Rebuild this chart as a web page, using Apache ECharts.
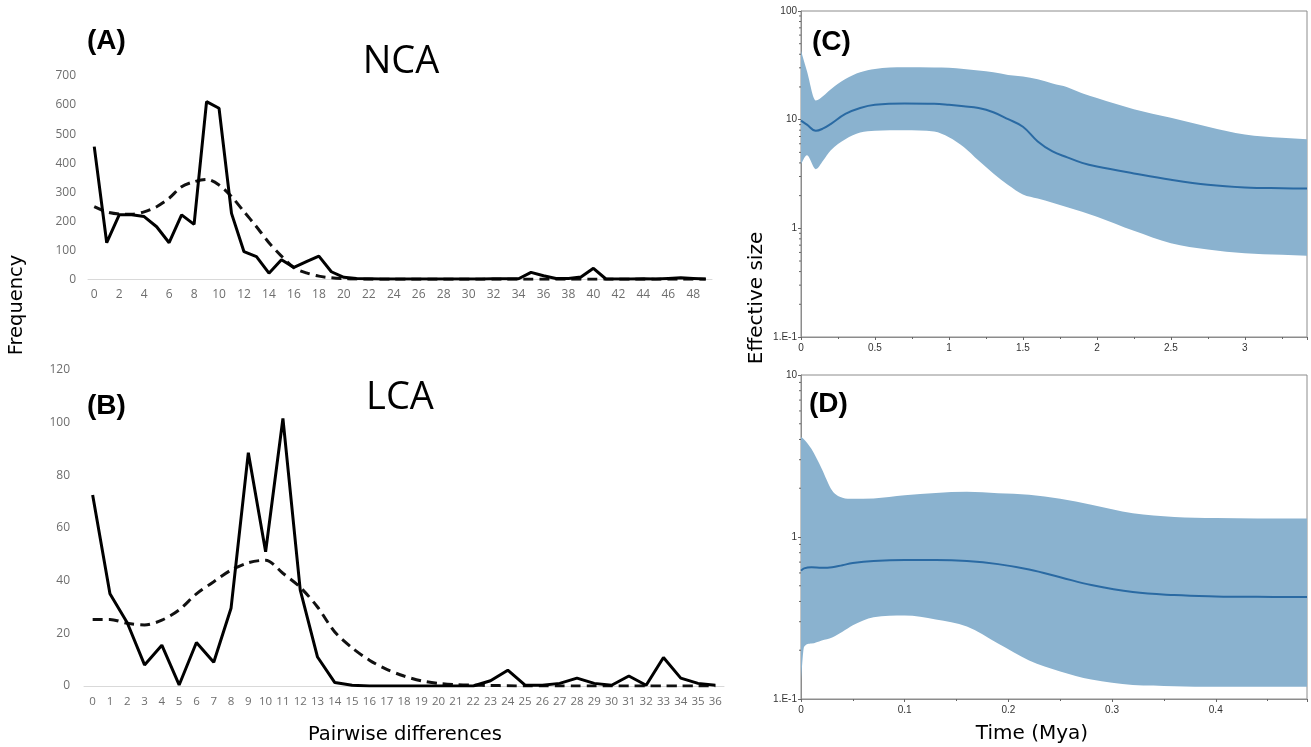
<!DOCTYPE html>
<html>
<head>
<meta charset="utf-8">
<script src="https://cdn.jsdelivr.net/npm/echarts@6/dist/echarts.min.js"></script>
<style>
html,body{margin:0;padding:0;background:#fff;}
#chart{width:1311px;height:747px;}
</style>
</head>
<body>
<div id="chart"></div>
<script>
// ---------- Panel A (NCA) ----------
const ncaCategories = ['0','1','2','3','4','5','6','7','8','9','10','11','12','13','14','15','16','17','18','19','20','21','22','23','24','25','26','27','28','29','30','31','32','33','34','35','36','37','38','39','40','41','42','43','44','45','46','47','48','49'];
const ncaObserved = [457,126,222,222,216,181,126,222,189,612,589,227,95,78,21,67,41,61,80,26,7,3,2,1,1,1,1,1,1,1,1,1,2,2,2,24,12,3,3,8,38,1,1,1,2,1,3,5,3,1];
const ncaExpected = [250,232,225,224,232,250,279,319,336,344,325,285,233,181,126,80,40,22,11,5,2,1,0,0,0,0,0,0,0,0,0,0,0,0,0,0,0,0,0,0,0,0,0,0,0,0,0,0,0,0];
const ncaYTicks = [0,100,200,300,400,500,600,700];

// ---------- Panel B (LCA) ----------
const lcaCategories = ['0','1','2','3','4','5','6','7','8','9','10','11','12','13','14','15','16','17','18','19','20','21','22','23','24','25','26','27','28','29','30','31','32','33','34','35','36'];
const lcaObserved = [72.5,35,24,8,15.5,0.4,16.5,9,29.5,88.6,51,101.6,36.5,11,1.3,0.3,0,0,0,0,0,0,0,2,6,0.3,0.3,1,3,1,0.3,3.8,0.3,10.8,3,1,0.3];
const lcaExpected = [25.3,25.3,23.8,23.2,25,28.9,35,39.6,44,46.8,47.8,42.8,37.5,30,20.5,14.5,9.8,6.3,3.8,2,1,0.5,0.3,0.2,0.1,0,0,0,0,0,0,0,0,0,0,0,0];
const lcaYTicks = [0,20,40,60,80,100,120];

// ---------- Panel C (skyline, NCA) ----------
const cTime   = [0,0.04,0.1,0.15,0.2,0.3,0.4,0.5,0.7,0.9,1.0,1.1,1.2,1.3,1.4,1.5,1.6,1.7,1.8,1.9,2.0,2.25,2.5,2.75,3.0,3.25,3.42];
const cMedian = [9.8,9.0,7.9,8.3,9.1,11.3,12.8,13.7,14.1,14.0,13.7,13.3,12.8,11.7,10.1,8.6,6.3,5.1,4.5,4.0,3.7,3.2,2.8,2.52,2.38,2.34,2.33];
const cUpper  = [43,28,15,16.5,19,23.7,27.3,29.3,30.3,30.2,30,29.3,28.3,27.3,25.8,24.9,23.5,21.5,19.9,17.5,15.8,12.5,10.4,8.6,7.3,6.8,6.6];
const cLower  = [3.9,4.7,3.5,4.2,5.2,6.6,7.6,7.9,8.0,7.8,6.9,5.6,4.2,3.2,2.5,2.05,1.88,1.72,1.56,1.42,1.28,0.95,0.73,0.64,0.59,0.57,0.56];
const cMinorTicks = [0.2,0.3,0.4,0.5,0.6,0.7,0.8,0.9,2,3,4,5,6,7,8,9,20,30,40,50,60,70,80,90];

// ---------- Panel D (skyline, LCA) ----------
const dTime   = [0,0.003,0.01,0.02,0.03,0.04,0.05,0.07,0.1,0.13,0.16,0.19,0.22,0.25,0.28,0.32,0.36,0.4,0.44,0.488];
const dMedian = [0.62,0.64,0.65,0.645,0.65,0.67,0.69,0.71,0.72,0.72,0.71,0.68,0.63,0.565,0.505,0.457,0.438,0.43,0.427,0.426];
const dUpper  = [4.14,4.0,3.5,2.64,1.94,1.75,1.72,1.73,1.81,1.87,1.9,1.86,1.82,1.72,1.58,1.40,1.33,1.31,1.30,1.30];
const dLower  = [0.13,0.21,0.22,0.23,0.24,0.26,0.285,0.32,0.328,0.31,0.28,0.22,0.173,0.148,0.132,0.122,0.12,0.119,0.119,0.119];
const dMinorTicks = [0.2,0.3,0.4,0.5,0.6,0.7,0.8,0.9,2,3,4,5,6,7,8,9];

const BAND = '#8ab2cf';
const MED = '#2a6aa3';
const TICKGRAY = '#6e6e6e';

// monotone cubic (in x) bezier segments through pixel points
function monoSegs(p) {
  const n = p.length, d = [], m = [];
  for (let i = 0; i < n - 1; i++) {
    const h = p[i + 1][0] - p[i][0];
    d.push(h === 0 ? 0 : (p[i + 1][1] - p[i][1]) / h);
  }
  m[0] = d[0]; m[n - 1] = d[n - 2];
  for (let i = 1; i < n - 1; i++) {
    m[i] = (d[i - 1] * d[i] <= 0) ? 0 : (d[i - 1] + d[i]) / 2;
  }
  for (let i = 0; i < n - 1; i++) {
    if (d[i] === 0) { m[i] = 0; m[i + 1] = 0; continue; }
    const a = m[i] / d[i], b = m[i + 1] / d[i], s = a * a + b * b;
    if (s > 9) { const t = 3 / Math.sqrt(s); m[i] = t * a * d[i]; m[i + 1] = t * b * d[i]; }
  }
  const segs = [];
  for (let i = 0; i < n - 1; i++) {
    const h = (p[i + 1][0] - p[i][0]) / 3;
    segs.push([p[i], [p[i][0] + h, p[i][1] + m[i] * h], [p[i + 1][0] - h, p[i + 1][1] - m[i + 1] * h], p[i + 1]]);
  }
  return segs;
}
const f = v => v.toFixed(2);

function bandSeries(xi, times, up, lo) {
  return {
    type: 'custom', xAxisIndex: xi, yAxisIndex: xi, silent: true, z: 1,
    data: times.map((t, i) => [t, up[i], lo[i]]),
    encode: { x: 0, y: [1, 2] },
    renderItem: function (params, api) {
      if (params.dataIndex !== 0) return null;
      const pu = times.map((t, i) => api.coord([t, up[i]]));
      const pl = times.map((t, i) => api.coord([t, lo[i]]));
      const su = monoSegs(pu), sl = monoSegs(pl);
      let dstr = 'M' + f(pu[0][0]) + ' ' + f(pu[0][1]);
      su.forEach(s => { dstr += ' C' + f(s[1][0]) + ' ' + f(s[1][1]) + ' ' + f(s[2][0]) + ' ' + f(s[2][1]) + ' ' + f(s[3][0]) + ' ' + f(s[3][1]); });
      const last = pl[pl.length - 1];
      dstr += ' L' + f(last[0]) + ' ' + f(last[1]);
      for (let i = sl.length - 1; i >= 0; i--) {
        const s = sl[i];
        dstr += ' C' + f(s[2][0]) + ' ' + f(s[2][1]) + ' ' + f(s[1][0]) + ' ' + f(s[1][1]) + ' ' + f(s[0][0]) + ' ' + f(s[0][1]);
      }
      dstr += ' Z';
      return { type: 'path', shape: { pathData: dstr }, style: { fill: BAND } };
    }
  };
}

function minorTickSeries(xi, ticks) {
  return {
    type: 'custom', xAxisIndex: xi, yAxisIndex: xi, silent: true, z: 5, clip: false,
    data: ticks.map(v => [0, v]),
    renderItem: function (params, api) {
      const p = api.coord([0, api.value(1)]);
      return { type: 'line', shape: { x1: p[0] - 2, y1: p[1], x2: p[0], y2: p[1] }, style: { stroke: '#666', lineWidth: 1 } };
    }
  };
}

const logFmt = v => (v < 0.5 ? '1.E-1' : String(Math.round(v)));

const chart = echarts.init(document.getElementById('chart'), null, { renderer: 'canvas' });
const option = {
  backgroundColor: '#fff',
  animation: false,
  grid: [
    { left: 88, top: 76, width: 624, height: 203.3 },
    { left: 84, top: 370, width: 640, height: 316 },
    { left: 801, top: 11, width: 506, height: 326, show: true, borderColor: '#8c8c8c', borderWidth: 1 },
    { left: 801, top: 375, width: 506, height: 324, show: true, borderColor: '#8c8c8c', borderWidth: 1 }
  ],
  xAxis: [
    { gridIndex: 0, type: 'category', data: ncaCategories, boundaryGap: true,
      axisLine: { lineStyle: { color: '#d9d9d9', width: 1 } }, axisTick: { show: false },
      axisLabel: { interval: 1, color: TICKGRAY, fontFamily: 'Open Sans', fontSize: 12, margin: 9 } },
    { gridIndex: 1, type: 'category', data: lcaCategories, boundaryGap: true,
      axisLine: { lineStyle: { color: '#d9d9d9', width: 1 } }, axisTick: { show: false },
      axisLabel: { interval: 0, color: TICKGRAY, fontFamily: 'Open Sans', fontSize: 11.5, margin: 10 } },
    { gridIndex: 2, type: 'value', min: 0, max: 3.42, interval: 0.5,
      axisLine: { lineStyle: { color: '#8c8c8c' } },
      axisTick: { length: 3, lineStyle: { color: '#666' } },
      minorTick: { show: true, splitNumber: 2, length: 2, lineStyle: { color: '#666' } },
      splitLine: { show: false },
      axisLabel: { showMaxLabel: false, color: '#333', fontFamily: 'Liberation Sans', fontSize: 10, margin: 6 } },
    { gridIndex: 3, type: 'value', min: 0, max: 0.488, interval: 0.1,
      axisLine: { lineStyle: { color: '#8c8c8c' } },
      axisTick: { length: 3, lineStyle: { color: '#666' } },
      minorTick: { show: true, splitNumber: 2, length: 2, lineStyle: { color: '#666' } },
      splitLine: { show: false },
      axisLabel: { showMaxLabel: false, color: '#333', fontFamily: 'Liberation Sans', fontSize: 10, margin: 6 } }
  ],
  yAxis: [
    { gridIndex: 0, type: 'value', min: ncaYTicks[0], max: ncaYTicks[ncaYTicks.length - 1], interval: 100,
      axisLine: { show: false }, axisTick: { show: false }, splitLine: { show: false },
      axisLabel: { color: TICKGRAY, fontFamily: 'Open Sans', fontSize: 12, margin: 12 } },
    { gridIndex: 1, type: 'value', min: lcaYTicks[0], max: lcaYTicks[lcaYTicks.length - 1], interval: 20,
      axisLine: { show: false }, axisTick: { show: false }, splitLine: { show: false },
      axisLabel: { color: TICKGRAY, fontFamily: 'Open Sans', fontSize: 12, margin: 14 } },
    { gridIndex: 2, type: 'log', logBase: 10, min: 0.1, max: 100,
      axisLine: { show: true, lineStyle: { color: '#8c8c8c' } },
      axisTick: { show: true, length: 3, lineStyle: { color: '#666' } },
      splitLine: { show: false },
      axisLabel: { formatter: logFmt, color: '#333', fontFamily: 'Liberation Sans', fontSize: 10, margin: 4 } },
    { gridIndex: 3, type: 'log', logBase: 10, min: 0.1, max: 10,
      axisLine: { show: true, lineStyle: { color: '#8c8c8c' } },
      axisTick: { show: true, length: 3, lineStyle: { color: '#666' } },
      splitLine: { show: false },
      axisLabel: { formatter: logFmt, color: '#333', fontFamily: 'Liberation Sans', fontSize: 10, margin: 4 } }
  ],
  series: [
    { type: 'line', xAxisIndex: 0, yAxisIndex: 0, data: ncaExpected, showSymbol: false, smooth: 0.3,
      lineStyle: { color: '#111', width: 3, type: [10, 6] }, z: 2 },
    { type: 'line', xAxisIndex: 0, yAxisIndex: 0, data: ncaObserved, showSymbol: false,
      lineStyle: { color: '#000', width: 3 }, z: 3 },
    { type: 'line', xAxisIndex: 1, yAxisIndex: 1, data: lcaExpected, showSymbol: false, smooth: 0.3,
      lineStyle: { color: '#111', width: 3, type: [10, 6] }, z: 2 },
    { type: 'line', xAxisIndex: 1, yAxisIndex: 1, data: lcaObserved, showSymbol: false,
      lineStyle: { color: '#000', width: 3 }, z: 3 },
    bandSeries(2, cTime, cUpper, cLower),
    { type: 'line', xAxisIndex: 2, yAxisIndex: 2, data: cTime.map((t, i) => [t, cMedian[i]]),
      showSymbol: false, smooth: 0.4, lineStyle: { color: MED, width: 2 }, z: 3 },
    minorTickSeries(2, cMinorTicks),
    bandSeries(3, dTime, dUpper, dLower),
    { type: 'line', xAxisIndex: 3, yAxisIndex: 3, data: dTime.map((t, i) => [t, dMedian[i]]),
      showSymbol: false, smooth: 0.4, lineStyle: { color: MED, width: 2 }, z: 3 },
    minorTickSeries(3, dMinorTicks)
  ],
  graphic: [
    { type: 'text', x: 87, y: 27, style: { text: '(A)', font: 'bold 28px "Liberation Sans"', fill: '#000' } },
    { type: 'text', x: 401, y: 62, style: { text: 'NCA', font: '38px "Open Sans"', fill: '#000', textAlign: 'center', textVerticalAlign: 'middle' } },
    { type: 'text', x: 87, y: 392, style: { text: '(B)', font: 'bold 28px "Liberation Sans"', fill: '#000' } },
    { type: 'text', x: 400, y: 398, style: { text: 'LCA', font: '38px "Open Sans"', fill: '#000', textAlign: 'center', textVerticalAlign: 'middle' } },
    { type: 'text', x: 405, y: 735, style: { text: 'Pairwise differences', font: '19.5px "DejaVu Sans"', fill: '#000', textAlign: 'center', textVerticalAlign: 'middle' } },
    { type: 'text', x: 17, y: 305, rotation: Math.PI / 2, style: { text: 'Frequency', font: '19.5px "DejaVu Sans"', fill: '#000', textAlign: 'center', textVerticalAlign: 'middle' } },
    { type: 'text', x: 812, y: 28, style: { text: '(C)', font: 'bold 28px "Liberation Sans"', fill: '#000' } },
    { type: 'text', x: 809, y: 390, style: { text: '(D)', font: 'bold 28px "Liberation Sans"', fill: '#000' } },
    { type: 'text', x: 757, y: 298, rotation: Math.PI / 2, style: { text: 'Effective size', font: '20px "DejaVu Sans"', fill: '#000', textAlign: 'center', textVerticalAlign: 'middle' } },
    { type: 'text', x: 1032, y: 734, style: { text: 'Time (Mya)', font: '20px "DejaVu Sans"', fill: '#000', textAlign: 'center', textVerticalAlign: 'middle' } }
  ]
};
chart.setOption(option);
</script>
</body>
</html>
